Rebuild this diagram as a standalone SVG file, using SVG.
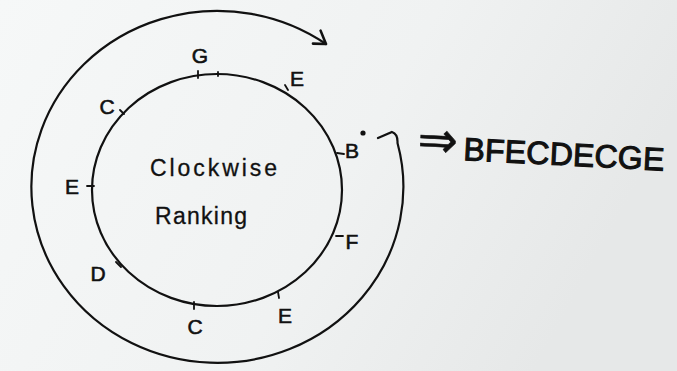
<svg xmlns="http://www.w3.org/2000/svg" width="677" height="371" viewBox="0 0 677 371">
<defs>
<linearGradient id="bg" x1="0" y1="0" x2="1" y2="0.3">
<stop offset="0" stop-color="#f6f8f8"/>
<stop offset="0.6" stop-color="#f0f2f2"/>
<stop offset="1" stop-color="#e6e8e8"/>
</linearGradient>
<marker id="chev" markerWidth="20" markerHeight="20" refX="14" refY="10" orient="auto" markerUnits="userSpaceOnUse">
<path d="M2 2 L14 10 L3 17" fill="none" stroke="#111" stroke-width="2.6" stroke-linecap="round" stroke-linejoin="round"/>
</marker>
<style>
.ln{fill:none;stroke:#111;stroke-width:2.2;stroke-linecap:round}
.tk{fill:none;stroke:#111;stroke-width:1.8;stroke-linecap:round}
.lb{font-family:"Liberation Sans",Arial,sans-serif;font-size:21px;fill:#111;stroke:#111;stroke-width:0.6;text-anchor:middle}
.ct{font-family:"Liberation Sans",Arial,sans-serif;font-size:23px;fill:#111;stroke:#111;stroke-width:0.3}
.rs{font-family:"Liberation Sans",Arial,sans-serif;font-size:32px;fill:#111;stroke:#111;stroke-width:1.1}
.ar{font-family:"DejaVu Sans",sans-serif;font-size:50px;fill:#111;stroke:#111;stroke-width:0.6}
</style>
</defs>
<rect width="677" height="371" fill="url(#bg)"/>
<g id="connectors">
<path class="ln" d="M378 138 L392 132 Q398 134 397.5 143 A186 176 0 1 1 326 44" marker-end="url(#chev)"/>
</g>
<g id="ring">
<ellipse class="ln" cx="217" cy="190" rx="125" ry="116"/>
</g>
<g id="ticks">
<path class="tk" d="M198 71 L198 78 M218 72 L218 76 M285 85 L288 90 M120 110 L124 114 M337 153 L344 154 M87 186 L94 186 M336 236 L343 236 M116 262 L121 267 M194 302 L194 309 M278 292 L279 298"/>
</g>
<g id="center-label">
<text class="ct" x="150" y="176" textLength="127">Clockwise</text>
<text class="ct" x="155" y="224" textLength="92">Ranking</text>
</g>
<g id="node-G"><text class="lb" x="200" y="63">G</text></g>
<g id="node-E1"><text class="lb" x="297" y="86">E</text></g>
<g id="node-C1"><text class="lb" x="107" y="114">C</text></g>
<g id="node-B"><text class="lb" x="352" y="158">B</text><circle cx="363" cy="133" r="2.6" fill="#111"/></g>
<g id="node-E2"><text class="lb" x="72" y="194">E</text></g>
<g id="node-F"><text class="lb" x="352" y="249">F</text></g>
<g id="node-D"><text class="lb" x="98" y="281">D</text></g>
<g id="node-C2"><text class="lb" x="195" y="334">C</text></g>
<g id="node-E3"><text class="lb" x="285" y="323">E</text></g>
<g id="result">
<text class="ar" x="417" y="156" textLength="40" lengthAdjust="spacingAndGlyphs" transform="rotate(3 417 156)">⇒</text>
<text class="rs" x="463" y="160" textLength="201" transform="rotate(3 463 160)">BFECDECGE</text>
</g>
</svg>
